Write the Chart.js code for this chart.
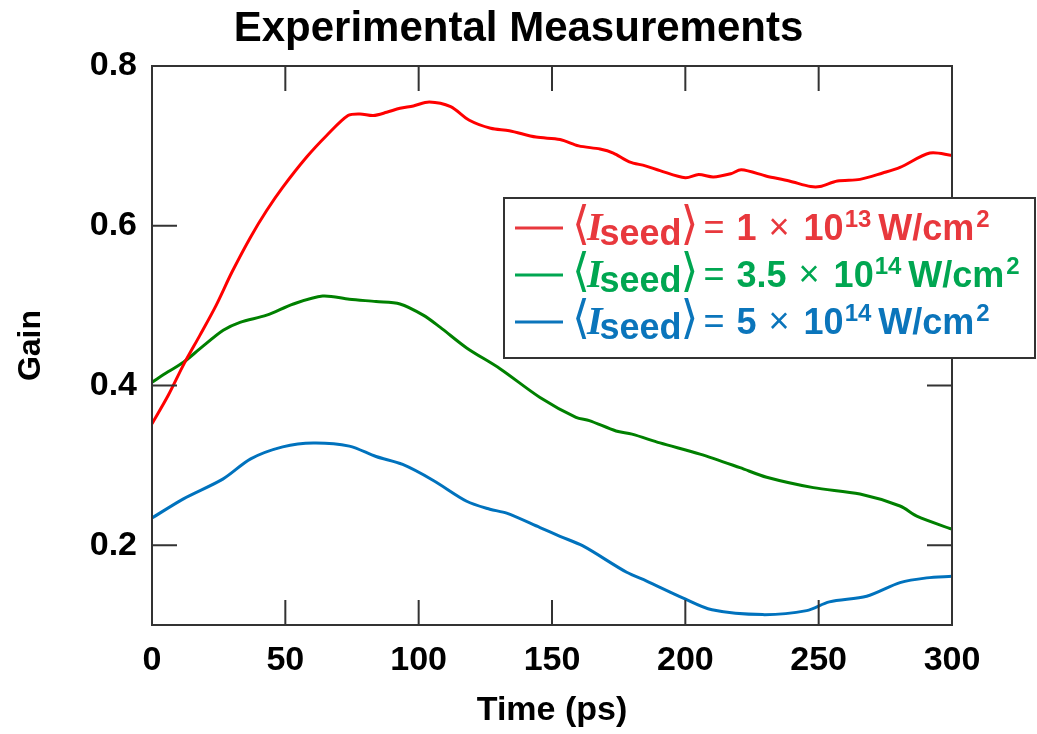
<!DOCTYPE html>
<html>
<head>
<meta charset="utf-8">
<title>Experimental Measurements</title>
<script src="https://cdn.jsdelivr.net/npm/chart.js@4.4.1/dist/chart.umd.min.js"></script>
<style>
  html, body { margin: 0; padding: 0; background: #fff; }
  #wrap { width: 1037px; height: 734px; }
</style>
</head>
<body>
<div id="wrap"><canvas id="gainChart" width="1037" height="734"></canvas></div>
<script>
// Data (time in ps, gain)
var redTime = [0, 6, 12, 18, 24, 30, 37, 43, 49, 58, 65.5, 73.5, 78, 83, 88, 93, 98, 104, 112, 119, 127, 134, 144, 153, 160, 168, 173, 179, 185, 190.5, 200, 205, 210.5, 217, 221, 230.5, 239, 247, 250.5, 257, 265.5, 274, 280.5, 291.7, 300];
var redGain = [0.352, 0.387, 0.427, 0.463, 0.500, 0.542, 0.586, 0.619, 0.648, 0.686, 0.713, 0.738, 0.740, 0.738, 0.742, 0.747, 0.750, 0.755, 0.749, 0.732, 0.722, 0.719, 0.711, 0.708, 0.700, 0.696, 0.691, 0.680, 0.675, 0.669, 0.660, 0.664, 0.661, 0.665, 0.670, 0.662, 0.656, 0.649, 0.649, 0.656, 0.658, 0.666, 0.673, 0.691, 0.688];

var greenTime = [0, 6, 11.8, 18, 26.7, 33, 43, 53, 64, 74, 84, 93, 101.7, 108, 118, 130.5, 145.5, 159, 164, 174, 180, 190.5, 205.5, 220.5, 230.5, 248, 265.5, 280.5, 287, 300];
var greenGain = [0.404, 0.417, 0.429, 0.446, 0.469, 0.479, 0.488, 0.502, 0.512, 0.508, 0.505, 0.502, 0.488, 0.473, 0.447, 0.421, 0.385, 0.360, 0.356, 0.343, 0.339, 0.328, 0.314, 0.297, 0.285, 0.272, 0.264, 0.249, 0.236, 0.220];

var blueTime = [0, 11.8, 26.7, 37, 49, 60.5, 74, 84, 94, 105.5, 118, 126.7, 133, 145.5, 153, 161.6, 178, 185.5, 199, 210, 229, 245.5, 254, 268, 280.5, 290.5, 300];
var blueGain = [0.234, 0.258, 0.283, 0.308, 0.323, 0.328, 0.324, 0.311, 0.301, 0.281, 0.255, 0.245, 0.240, 0.222, 0.211, 0.199, 0.166, 0.155, 0.134, 0.119, 0.113, 0.118, 0.129, 0.136, 0.153, 0.159, 0.161];

var xTickValues = [0, 50, 100, 150, 200, 250, 300];
var yTickValues = [0.2, 0.4, 0.6, 0.8];

// Legend: <I_seed> = coefficient x 10^exponent W/cm^2
var seedCoefficients = ['1', '3.5', '5'];
var seedExponents = ['13', '14', '14'];

var lineColors = ['#ff0000', '#008000', '#0072bd'];
var legendColors = ['#e8383d', '#00a651', '#0b75bb'];

var FONT = '"Liberation Sans", Arial, Helvetica, sans-serif';
var BRACKET_FONT = '46px "DejaVu Sans ExtraLight", "DejaVu Sans Light", "DejaVu Sans"';
var FRAME = '#333333';

function toPoints(xs, ys) {
    return xs.map(function (x, i) { return { x: x, y: ys[i] }; });
}

function fixedTicks(values) {
    return function (scale) {
        scale.ticks = values.map(function (v) { return { value: v }; });
    };
}

// Box round the plot with inward ticks on all four sides
var frameTicksPlugin = {
    id: 'frameTicks',
    afterDatasetsDraw: function (chart) {
        var ctx = chart.ctx;
        var a = chart.chartArea;
        var xs = chart.scales.x, ys = chart.scales.y;
        var len = 25;
        ctx.save();
        ctx.strokeStyle = FRAME;
        ctx.lineWidth = 2;
        ctx.strokeRect(a.left, a.top, a.right - a.left, a.bottom - a.top);
        ctx.beginPath();
        xTickValues.forEach(function (v) {
            var px = xs.getPixelForValue(v);
            ctx.moveTo(px, a.bottom); ctx.lineTo(px, a.bottom - len);
            ctx.moveTo(px, a.top); ctx.lineTo(px, a.top + len);
        });
        yTickValues.forEach(function (v) {
            var py = ys.getPixelForValue(v);
            ctx.moveTo(a.left, py); ctx.lineTo(a.left + len, py);
            ctx.moveTo(a.right, py); ctx.lineTo(a.right - len, py);
        });
        ctx.stroke();
        ctx.restore();
    }
};

// Legend with the math labels, drawn piece by piece
var seedLegendPlugin = {
    id: 'seedLegend',
    afterDraw: function (chart) {
        var ctx = chart.ctx;
        var boxX = 504, boxY = 198, boxW = 531, boxH = 160;
        ctx.save();
        ctx.fillStyle = '#fff';
        ctx.fillRect(boxX, boxY, boxW, boxH);
        ctx.strokeStyle = FRAME;
        ctx.lineWidth = 2;
        ctx.strokeRect(boxX, boxY, boxW, boxH);

        for (var i = 0; i < seedCoefficients.length; i++) {
            var cy = 228 + i * 47;
            var col = legendColors[i];
            ctx.strokeStyle = col;
            ctx.lineWidth = 3;
            ctx.beginPath();
            ctx.moveTo(515, cy); ctx.lineTo(563, cy);
            ctx.stroke();

            var pieces = [
                { t: '\u27E8', f: BRACKET_FONT, dy: 11, gap: -3 },
                { t: 'I', f: 'italic bold 40px "Liberation Serif"', dy: 12, gap: -3 },
                { t: 'seed', f: 'bold 36px ' + FONT, dy: 17, gap: -1 },
                { t: '\u27E9', f: BRACKET_FONT, dy: 11, gap: 5 },
                { t: '=', f: '36px ' + FONT, dy: 11, gap: 12 },
                { t: seedCoefficients[i], f: 'bold 36px ' + FONT, dy: 12, gap: 12 },
                { t: '\u00D7', f: '36px ' + FONT, dy: 11, gap: 14 },
                { t: '10', f: 'bold 36px ' + FONT, dy: 12, gap: 1 },
                { t: seedExponents[i], f: 'bold 24px ' + FONT, dy: -1, gap: 7 },
                { t: 'W/cm', f: 'bold 36px ' + FONT, dy: 12, gap: 2 },
                { t: '2', f: 'bold 24px ' + FONT, dy: -1, gap: 0 }
            ];
            var x = 572;
            ctx.fillStyle = col;
            ctx.textBaseline = 'alphabetic';
            ctx.textAlign = 'left';
            pieces.forEach(function (p) {
                ctx.font = p.f;
                ctx.fillText(p.t, x, cy + p.dy);
                x += ctx.measureText(p.t).width + p.gap;
            });
        }
        ctx.restore();
    }
};

var chart = new Chart(document.getElementById('gainChart'), {
    type: 'line',
    data: {
        datasets: [
            { label: '1e13', data: toPoints(redTime, redGain), borderColor: lineColors[0] },
            { label: '3.5e14', data: toPoints(greenTime, greenGain), borderColor: lineColors[1] },
            { label: '5e14', data: toPoints(blueTime, blueGain), borderColor: lineColors[2] }
        ]
    },
    options: {
        responsive: false,
        devicePixelRatio: 1,
        animation: false,
        datasets: {
            line: { borderWidth: 3, pointRadius: 0, tension: 0.3, fill: false }
        },
        layout: { padding: 0 },
        plugins: {
            legend: { display: false },
            tooltip: { enabled: false },
            title: {
                display: true,
                text: 'Experimental Measurements',
                color: '#000',
                font: { family: FONT, size: 42, weight: 'bold', lineHeight: 1.2 },
                padding: { top: 4, bottom: 11.6 }
            }
        },
        scales: {
            x: {
                type: 'linear',
                min: 0,
                max: 300,
                afterBuildTicks: fixedTicks(xTickValues),
                afterFit: function (scale) { scale.height = 109; },
                grid: { display: false, drawTicks: false },
                border: { display: false },
                ticks: {
                    color: '#000',
                    padding: 15,
                    maxRotation: 0,
                    font: { family: FONT, size: 34, weight: 'bold' }
                },
                title: {
                    display: true,
                    text: 'Time (ps)',
                    color: '#000',
                    font: { family: FONT, size: 34, weight: 'bold', lineHeight: 1.2 },
                    padding: { top: 0, bottom: 3 }
                }
            },
            y: {
                type: 'linear',
                min: 0.1,
                max: 0.8,
                afterBuildTicks: fixedTicks(yTickValues),
                afterFit: function (scale) { scale.width = 152; },
                grid: { display: false, drawTicks: false },
                border: { display: false },
                ticks: {
                    color: '#000',
                    padding: 15,
                    font: { family: FONT, size: 34, weight: 'bold' },
                    callback: function (v) { return Number(v).toFixed(1); }
                },
                title: {
                    display: true,
                    text: 'Gain',
                    color: '#000',
                    font: { family: FONT, size: 32, weight: 'bold', lineHeight: 1.2 },
                    padding: { top: 12, bottom: 0 }
                }
            },
            // empty right axis that only reserves the margin on the right
            yRight: {
                type: 'linear',
                position: 'right',
                min: 0.1,
                max: 0.8,
                afterFit: function (scale) { scale.width = 85; },
                grid: { display: false, drawTicks: false },
                border: { display: false },
                ticks: { display: false }
            }
        }
    },
    plugins: [frameTicksPlugin, seedLegendPlugin]
});
</script>
</body>
</html>
